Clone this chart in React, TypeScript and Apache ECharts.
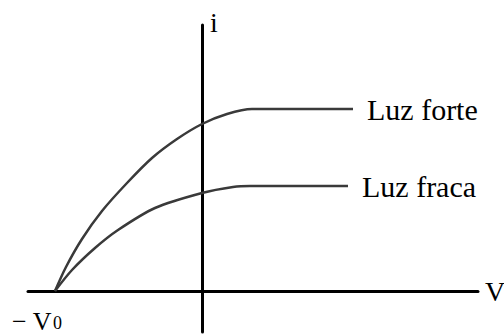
import React, { useEffect, useRef } from "react";
import * as echarts from "echarts";

// Curve points: [V, i] in arbitrary units (axis origin at 0,0)
const strongLight: number[][] = [
  [-1.47, 0], [-1.36, 0.24], [-1.2, 0.52], [-1.0, 0.8], [-0.75, 1.08], [-0.5, 1.33],
  [-0.25, 1.52], [0, 1.67], [0.25, 1.77], [0.5, 1.82], [1.51, 1.82],
];
const weakLight: number[][] = [
  [-1.47, 0], [-1.3, 0.21], [-1.07, 0.43], [-0.84, 0.61], [-0.47, 0.83],
  [0, 0.98], [0.31, 1.04], [0.48, 1.05], [1.46, 1.05],
];
const seriesNames = ["Luz forte", "Luz fraca"];
const xRange = [-1.74, 2.76];
const yRange = [-0.41, 2.66];

const SERIF = "'Liberation Serif', 'DejaVu Serif', serif";

export default function App() {
  const ref = useRef<HTMLDivElement>(null);
  useEffect(() => {
    if (!ref.current) return;
    const chart = echarts.init(ref.current, undefined, { renderer: "svg" });
    const curveStyle = { color: "#3a3a3a", width: 2.5 };
    const labelStyle = { fontFamily: SERIF, fontSize: 30, color: "#000" };
    chart.setOption({
      animation: false,
      backgroundColor: "#ffffff",
      grid: { left: 28, right: 26, top: 25, bottom: 4, containLabel: false, outerBoundsMode: "none" },
      xAxis: {
        type: "value",
        min: xRange[0],
        max: xRange[1],
        name: "V",
        nameLocation: "end",
        nameGap: 7,
        nameTextStyle: { fontFamily: SERIF, fontSize: 28, color: "#000", verticalAlign: "middle" },
        axisLine: { show: true, onZero: true, lineStyle: { color: "#000", width: 3 } },
        axisTick: { show: false },
        axisLabel: { show: false },
        splitLine: { show: false },
      },
      yAxis: {
        type: "value",
        min: yRange[0],
        max: yRange[1],
        name: "i",
        nameLocation: "end",
        nameGap: 3,
        nameTextStyle: {
          fontFamily: SERIF, fontSize: 28, color: "#000",
          align: "left", verticalAlign: "middle", padding: [0, 0, 0, 8],
        },
        axisLine: { show: true, onZero: true, lineStyle: { color: "#000", width: 3 } },
        axisTick: { show: false },
        axisLabel: { show: false },
        splitLine: { show: false },
      },
      series: [
        {
          name: seriesNames[0],
          type: "line",
          data: strongLight,
          smooth: 0.3,
          symbol: "none",
          lineStyle: curveStyle,
          endLabel: { show: true, formatter: "{a}", distance: 14, ...labelStyle },
        },
        {
          name: seriesNames[1],
          type: "line",
          data: weakLight,
          smooth: 0.3,
          symbol: "none",
          lineStyle: curveStyle,
          endLabel: { show: true, formatter: "{a}", distance: 14, ...labelStyle },
        },
      ],
      graphic: [
        {
          type: "text", left: 12, top: 308,
          style: { text: "− V", fontFamily: SERIF, fontSize: 26, lineHeight: 22, fill: "#000" },
        },
        {
          type: "text", left: 53, top: 314,
          style: { text: "0", fontFamily: SERIF, fontSize: 18, lineHeight: 16, fill: "#000" },
        },
      ],
    });
    return () => chart.dispose();
  }, []);
  return (
    <div
      ref={ref}
      style={{ position: "fixed", left: 0, top: 0, width: 504, height: 336, background: "#fff" }}
    />
  );
}
